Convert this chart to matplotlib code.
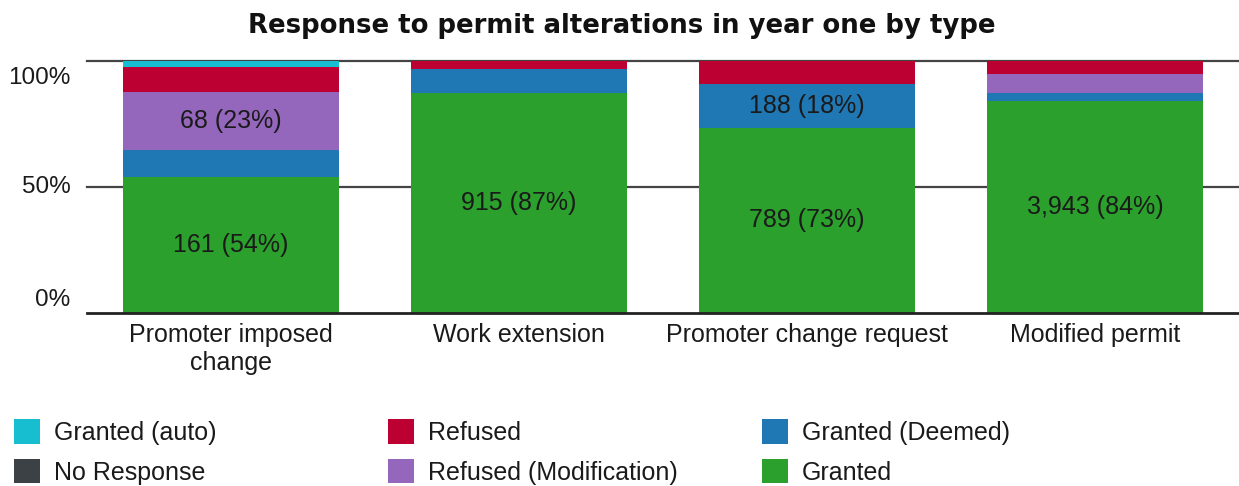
import numpy as np
import matplotlib
matplotlib.use("Agg")
import matplotlib.pyplot as plt

plt.rcParams['font.family'] = ['Liberation Sans', 'DejaVu Sans']

categories = ["Promoter imposed\nchange", "Work extension", "Promoter change request", "Modified permit"]

# counts per response type, one value per category
granted = [161, 915, 789, 3943]
granted_deemed = [32, 100, 188, 155]
refused_mod = [68, 0, 0, 347]
refused = [30, 32, 97, 245]
granted_auto = [7, 0, 0, 0]
no_response = [0, 0, 0, 0]

y_ticks = [0, 50, 100]
y_tick_labels = ["0%", "50%", "100%"]

series = [
    ("Granted", granted, "#2ca02c"),
    ("Granted (Deemed)", granted_deemed, "#1f77b4"),
    ("Refused (Modification)", refused_mod, "#9467bd"),
    ("Refused", refused, "#bd0032"),
    ("Granted (auto)", granted_auto, "#17becf"),
    ("No Response", no_response, "#3c4146"),
]

totals = np.sum([s[1] for s in series], axis=0)

fig = plt.figure(figsize=(12.39, 4.86), dpi=100)
ax = fig.add_axes([87 / 1239, 1 - 313 / 486, 1 - 87 / 1239, 252 / 486])

x = np.arange(len(categories))
bottom = np.zeros(len(categories))
handles = {}
for name, vals, col in series:
    pct = np.array(vals) / totals * 100
    b = ax.bar(x, pct, 0.75, bottom=bottom, color=col, zorder=3, label=name)
    handles[name] = b
    for i in range(len(x)):
        if pct[i] >= 15:
            ax.text(x[i], bottom[i] + pct[i] / 2, f"{vals[i]:,} ({pct[i]:.0f}%)",
                    ha='center', va='center', fontsize=18, color='#1a1a1a', zorder=4)
    bottom += pct

ax.set_xlim(-0.5, 3.5)
ax.set_ylim(0, 100)
for yv in y_ticks[1:]:
    ax.axhline(yv, color='#444444', lw=1.6, zorder=1, clip_on=False)
ax.axhline(0, color='#222222', lw=2, zorder=5, clip_on=False)

for s in ax.spines.values():
    s.set_visible(False)
ax.set_xticks(x)
ax.set_xticklabels(categories, fontsize=18, color='#1a1a1a')
ax.set_yticks([])
ax.tick_params(axis='x', length=0, pad=7)

# y labels: 0% above the base, 50% centred on its line, 100% below the top line
ylab_off = [9.5, 0, -12.5]
for yv, lab, off in zip(y_ticks, y_tick_labels, ylab_off):
    ax.annotate(lab, xy=(0, yv), xycoords=('axes fraction', 'data'),
                xytext=(-12, off), textcoords='offset points',
                ha='right', va='center', fontsize=17.5, color='#1a1a1a')

fig.text(0.502, 1 - 26 / 486, "Response to permit alterations in year one by type",
         ha='center', va='center', fontsize=18.7, fontweight='bold', color='#111111',
         family='DejaVu Sans')

# legend, three columns laid out row by row
cols = [["Granted (auto)", "No Response"],
        ["Refused", "Refused (Modification)"],
        ["Granted (Deemed)", "Granted"]]
for ci, names in enumerate(cols):
    leg = fig.legend([handles[n] for n in names], names, loc='upper left',
                     bbox_to_anchor=((14 + ci * 374) / 1239, 1 - 419 / 486),
                     frameon=False, fontsize=18, handlelength=1.05, handleheight=1.15,
                     handletextpad=0.55, labelspacing=0.55, borderpad=0, borderaxespad=0)
    for t in leg.get_texts():
        t.set_color('#1a1a1a')

fig.savefig("out.png", dpi=100)
